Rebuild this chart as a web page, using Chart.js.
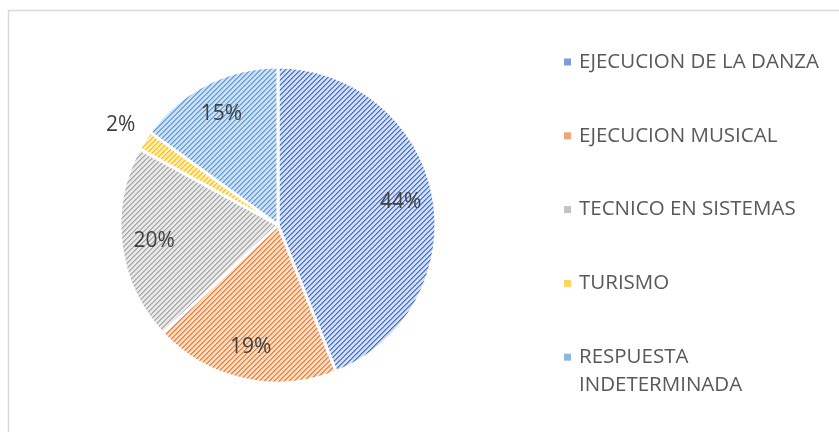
<!DOCTYPE html>
<html>
<head>
<meta charset="utf-8">
<script src="https://cdn.jsdelivr.net/npm/chart.js@4.4.1/dist/chart.umd.min.js"></script>
<style>
  html, body { margin: 0; padding: 0; background: #fff; }
  #wrap { position: relative; width: 839px; height: 432px; }
</style>
</head>
<body>
<div id="wrap"><canvas id="c" width="839" height="432"></canvas></div>
<script>
const categories = ["EJECUCION DE LA DANZA", "EJECUCION MUSICAL", "TECNICO EN SISTEMAS", "TURISMO", "RESPUESTA INDETERMINADA"];
const values = [44, 19, 20, 2, 15];
const darkColors = ["#4170C8", "#EE7A2C", "#A3A3A3", "#FFBF00", "#5A98D8"];
const midColors = ["#7F9BD8", "#F3A672", "#C3C3C3", "#FFD560", "#8DB8E4"];
const lightColors = ["#D3DDF3", "#FBDCC7", "#E8E8E8", "#FFEDB8", "#CDE0F3"];

function makePattern(dark, mid, light) {
  const n = 5;
  const t = document.createElement('canvas');
  t.width = n; t.height = n;
  const g = t.getContext('2d');
  g.fillStyle = light; g.fillRect(0, 0, n, n);
  for (let x = 0; x < n; x++) for (let y = 0; y < n; y++) {
    const k = (x + y) % n;
    if (k === n - 1) { g.fillStyle = dark; g.fillRect(x, y, 1, 1); }
    else if (k === 0) { g.fillStyle = mid; g.fillRect(x, y, 1, 1); }
  }
  return g.createPattern(t, 'repeat');
}
const ctx0 = document.getElementById('c').getContext('2d');
const patterns = darkColors.map((d, i) => makePattern(d, midColors[i], lightColors[i]));

const frame = {
  id: 'frame',
  beforeDraw(chart) {
    const c = chart.ctx;
    c.save();
    c.strokeStyle = '#D9D9D9';
    c.lineWidth = 1.5;
    c.strokeRect(8.5, 10.5, 1000, 1000);
    c.restore();
  }
};

const pctLabels = {
  id: 'pctLabels',
  afterDatasetsDraw(chart) {
    const c = chart.ctx;
    const meta = chart.getDatasetMeta(0);
    const data = chart.data.datasets[0].data;
    const total = data.reduce((a, b) => a + b, 0);
    c.save();
    c.font = '21px "Open Sans", sans-serif';
    c.fillStyle = '#404040';
    c.textAlign = 'center';
    c.textBaseline = 'middle';
    meta.data.forEach((arc, i) => {
      const p = arc.getProps(['x', 'y', 'startAngle', 'endAngle', 'outerRadius'], true);
      const mid = (p.startAngle + p.endAngle) / 2;
      const share = data[i] / total;
      const f = share < 0.05 ? 1.18 : 0.79;
      const x = p.x + Math.cos(mid) * p.outerRadius * f;
      const y = p.y + Math.sin(mid) * p.outerRadius * f;
      c.fillText(Math.round(share * 100) + '%', x, y);
    });
    c.restore();
  }
};

const sideLegend = {
  id: 'sideLegend',
  afterDraw(chart) {
    const c = chart.ctx;
    const labels = chart.data.labels;
    c.save();
    c.font = '20.5px "Open Sans", sans-serif';
    c.textBaseline = 'middle';
    c.textAlign = 'left';
    const x0 = 564, tx = 579, maxW = 255, y0 = 62, step = 73.8, lh = 28;
    labels.forEach((lab, i) => {
      const y = y0 + step * i;
      const words = lab.split(' ');
      const lines = [];
      let cur = '';
      words.forEach(w => {
        const test = cur ? cur + ' ' + w : w;
        if (c.measureText(test).width > maxW && cur) { lines.push(cur); cur = w; }
        else cur = test;
      });
      if (cur) lines.push(cur);
      c.fillStyle = midColors[i];
      c.fillRect(x0, y - 3.5, 7, 7);
      c.fillStyle = '#595959';
      lines.forEach((ln, k) => c.fillText(ln, tx, y + k * lh));
    });
    c.restore();
  }
};

new Chart(ctx0, {
  type: 'pie',
  data: {
    labels: categories,
    datasets: [{
      data: values,
      backgroundColor: patterns,
      borderColor: '#FFFFFF',
      borderWidth: 3,
      hoverOffset: 0,
      radius: 158
    }]
  },
  options: {
    responsive: false,
    animation: false,
    events: [],
    layout: { padding: { left: 121, right: 404, top: 68, bottom: 50 } },
    plugins: {
      legend: { display: false },
      tooltip: { enabled: false }
    }
  },
  plugins: [frame, pctLabels, sideLegend]
});
</script>
</body>
</html>
